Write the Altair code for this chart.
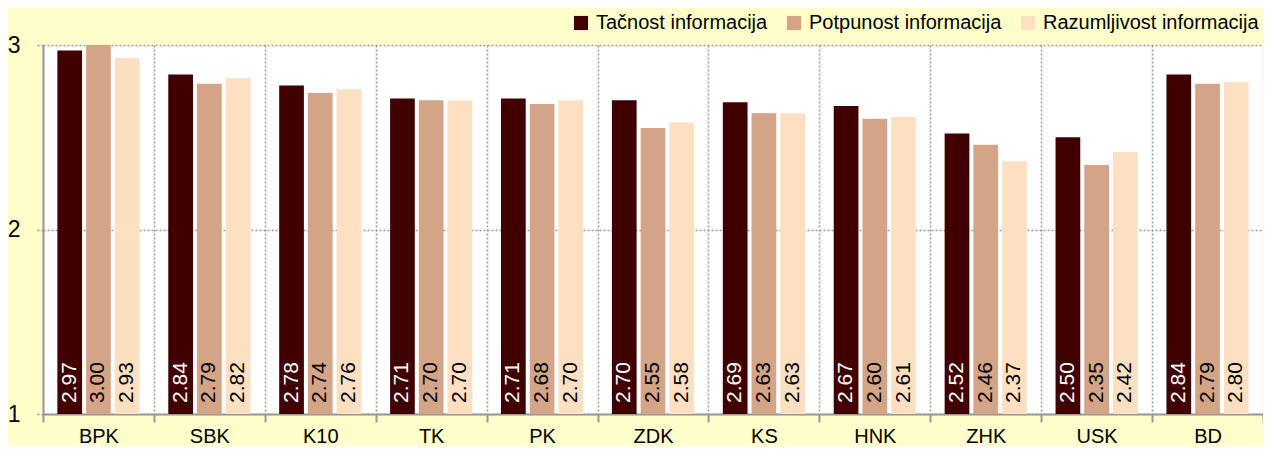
import altair as alt
import pandas as pd

categories = ["BPK", "SBK", "K10", "TK", "PK", "ZDK", "KS", "HNK", "ZHK", "USK", "BD"]
series_names = ["Tačnost informacija", "Potpunost informacija", "Razumljivost informacija"]
tacnost = [2.97, 2.84, 2.78, 2.71, 2.71, 2.70, 2.69, 2.67, 2.52, 2.50, 2.84]
potpunost = [3.00, 2.79, 2.74, 2.70, 2.68, 2.55, 2.63, 2.60, 2.46, 2.35, 2.79]
razumljivost = [2.93, 2.82, 2.76, 2.70, 2.70, 2.58, 2.63, 2.61, 2.37, 2.42, 2.80]
y_ticks = [1, 2, 3]
colors = ["#400000", "#D4A487", "#FDE0C2"]
label_colors = ["#FFFFFF", "#000000", "#000000"]

rows = []
for s, vals in zip(series_names, [tacnost, potpunost, razumljivost]):
    for c, v in zip(categories, vals):
        rows.append({"cat": c, "series": s, "value": v, "label": f"{v:.2f}"})
df = pd.DataFrame(rows)

FONT = "Liberation Sans, Arial, sans-serif"

x = alt.X("cat:N", sort=categories, title=None,
          scale=alt.Scale(paddingInner=0, paddingOuter=0),
          axis=alt.Axis(labelAngle=0, tickBand="extent", grid=True,
                        gridDash=[2, 2], gridColor="#999999", gridWidth=1.5,
                        domainColor="#999999", domainWidth=2,
                        tickColor="#999999", tickWidth=2, tickSize=8,
                        labelFontSize=20, labelFont=FONT, labelColor="#000000",
                        labelPadding=4))
xoff = alt.XOffset("series:N", sort=series_names,
                   scale=alt.Scale(paddingInner=0.14, paddingOuter=0.5))
y_scale = alt.Scale(domain=[1, 3], zero=False, nice=False)
y_axis = alt.Axis(values=y_ticks, format=".0f", grid=True, gridDash=[2, 2],
                  gridColor="#999999", gridWidth=1.5,
                  domainColor="#999999", domainWidth=2,
                  tickColor="#999999", tickDash=[2, 2], tickWidth=1.5,
                  tickSize=8, labelFontSize=23, labelFont=FONT,
                  labelColor="#000000", labelPadding=15,
                  labelFlush=False, labelOverlap=False, title=None)

bars = alt.Chart(df).mark_bar().encode(
    x=x,
    xOffset=xoff,
    y=alt.Y("value:Q", scale=y_scale, title=None, axis=y_axis),
    y2=alt.Y2(datum=1),
    color=alt.Color("series:N", sort=series_names,
                    scale=alt.Scale(domain=series_names, range=colors),
                    legend=alt.Legend(title=None, orient="none", direction="horizontal",
                                      legendX=528, legendY=-32,
                                      symbolType="square", symbolSize=200,
                                      symbolStrokeWidth=0, symbolOpacity=1,
                                      labelFontSize=20, labelFont=FONT,
                                      labelColor="#000000", labelOffset=5,
                                      labelLimit=400, columnPadding=16)),
)

text = alt.Chart(df).mark_text(angle=270, align="left", baseline="middle",
                               dx=11, fontSize=21, font=FONT).encode(
    x=x,
    xOffset=xoff,
    y=alt.Y(datum=1, scale=y_scale, axis=y_axis),
    text="label:N",
    color=alt.Color("series:N", sort=series_names,
                    scale=alt.Scale(domain=series_names, range=label_colors),
                    legend=None),
)

chart = alt.layer(bars, text).resolve_scale(color="independent").properties(
    width=1220, height=369,
    background="#FFFFCC",
    padding={"left": 35, "top": 37, "right": 0, "bottom": 32},
    autosize=alt.AutoSizeParams(type="none"),
).configure_view(fill="#FFFFFF", stroke=None)

chart.save("out.html", embed_options={"renderer": "svg", "actions": False})
